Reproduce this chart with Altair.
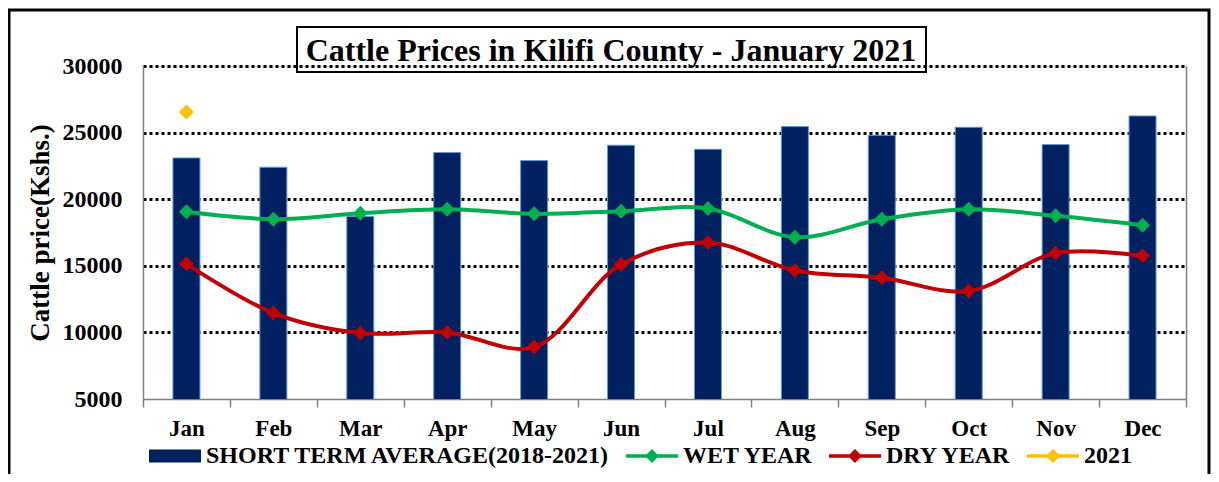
import altair as alt
import pandas as pd

# ---------------- data ----------------
months = ["Jan", "Feb", "Mar", "Apr", "May", "Jun", "Jul", "Aug", "Sep", "Oct", "Nov", "Dec"]
short_term_avg = [23100, 22400, 18700, 23500, 22900, 24050, 23750, 25450, 24800, 25400, 24100, 26250]
wet_year = [19050, 18500, 18950, 19250, 18900, 19100, 19300, 17150, 18500, 19250, 18750, 18050]
dry_year = [15150, 11450, 9950, 10000, 8900, 15100, 16750, 14650, 14100, 13100, 15950, 15750]
y2021_months = ["Jan"]
y2021_values = [26550]

S_STA = "SHORT TERM AVERAGE(2018-2021)"
S_WET = "WET YEAR"
S_DRY = "DRY YEAR"
S_2021 = "2021"
series_names = [S_STA, S_WET, S_DRY, S_2021]
series_colors = ["#002060", "#00B050", "#C00000", "#FFC000"]
y_ticks = [5000, 10000, 15000, 20000, 25000, 30000]

title_text = "Cattle Prices in Kilifi County - January 2021"
y_title = "Cattle price(Kshs.)"

rows = []
for m, v in zip(months, short_term_avg):
    rows.append({"month": m, "series": S_STA, "value": v})
for m, v in zip(months, wet_year):
    rows.append({"month": m, "series": S_WET, "value": v})
for m, v in zip(months, dry_year):
    rows.append({"month": m, "series": S_DRY, "value": v})
for m, v in zip(y2021_months, y2021_values):
    rows.append({"month": m, "series": S_2021, "value": v})
df = pd.DataFrame(rows)

FONT = "Liberation Serif"
BAR_SYM = "M-1,-0.25H1V0.25H-1Z"
LINE_SYM = "M-1,-0.07H1V0.07H-1Z M0,-0.27L0.27,0L0,0.27L-0.27,0Z"

x_enc = alt.X(
    "month:N",
    sort=months,
    scale=alt.Scale(domain=months, paddingInner=0, paddingOuter=0),
    axis=alt.Axis(
        title=None, labelAngle=0, tickBand="extent", tickSize=8, tickColor="#808080",
        tickWidth=1.5, domainColor="#808080", domainWidth=1.5, labelFont=FONT,
        labelFontSize=23, labelFontWeight="bold", labelColor="black", labelPadding=10,
        grid=False,
    ),
)
y_scale = alt.Scale(domain=[5000, 30000], nice=False, zero=False)
y_left = alt.Y(
    "value:Q",
    scale=y_scale,
    axis=alt.Axis(
        values=y_ticks, format="d", title=y_title, titleFont=FONT, titleFontSize=27,
        titleFontWeight="bold", titleColor="black", titlePadding=8,
        labelFont=FONT, labelFontSize=24, labelFontWeight="bold", labelColor="black",
        labelPadding=21, ticks=False, domainColor="#808080", domainWidth=1.5,
        grid=True, gridColor="black", gridWidth=3, gridDash=[3, 3],
        gridOpacity={"condition": {"test": "datum.value == 5000", "value": 0}, "value": 1},
    ),
)
y_right = alt.Y(
    "value:Q",
    scale=y_scale,
    axis=alt.Axis(orient="right", labels=False, ticks=False, title=None, grid=False,
                  domainColor="#808080", domainWidth=1.5),
)
y_none = alt.Y("value:Q", scale=y_scale, axis=None)

legend = alt.Legend(
    title=None, orient="none", legendX=6, legendY=364, direction="horizontal",
    symbolSize=2704, labelFont=FONT, labelFontSize=24, labelFontWeight="bold",
    labelColor="black", labelOffset=5, columnPadding=15, padding=0,
    symbolStrokeWidth=0, symbolOpacity=1, labelLimit=600,
    symbolType={"expr": "datum.value === '" + S_STA + "' ? '" + BAR_SYM + "' : '" + LINE_SYM + "'"},
)
color_enc = alt.Color("series:N", scale=alt.Scale(domain=series_names, range=series_colors), legend=legend)

base = alt.Chart(df)

bars = base.transform_filter(alt.datum.series == S_STA).mark_bar(
    size=27, stroke="#5B9BD5", strokeWidth=1, clip=True
).encode(x=x_enc, y=y_left, color=color_enc)

wet_line = base.transform_filter(alt.datum.series == S_WET).mark_line(
    color="#00B050", strokeWidth=4, interpolate="catmull-rom"
).encode(x=x_enc, y=y_right)

dry_line = base.transform_filter(alt.datum.series == S_DRY).mark_line(
    color="#C00000", strokeWidth=4, interpolate="catmull-rom"
).encode(x=x_enc, y=y_none)

points = base.transform_filter(alt.datum.series != S_STA).mark_point(
    shape="diamond", filled=True, size=225, opacity=1
).encode(x=x_enc, y=y_none, color=color_enc)

one = pd.DataFrame({"k": [0]})

title_box = alt.Chart(one).mark_rect(
    fill="transparent", stroke="black", strokeWidth=2, clip=False
).encode(x=alt.value(154), x2=alt.value(783), y=alt.value(-39), y2=alt.value(6))

title_mark = alt.Chart(one).mark_text(
    font=FONT, fontSize=32, fontWeight="bold", color="black", align="center",
    baseline="alphabetic", clip=False
).encode(x=alt.value(468), y=alt.value(-5), text=alt.value(title_text))

outer_box = alt.Chart(one).mark_rect(
    fill="transparent", stroke="black", strokeWidth=3, clip=False
).encode(x=alt.value(-134), x2=alt.value(1066), y=alt.value(-56), y2=alt.value(430))

chart = alt.layer(bars, wet_line, dry_line, points, title_box, title_mark, outer_box).resolve_axis(
    y="independent"
).properties(
    width=1043,
    height=333,
    autosize=alt.AutoSizeParams(type="none"),
    padding={"left": 135, "top": 58, "right": 25, "bottom": 75},
).configure_view(stroke=None).configure(background="white")

chart.save("out.html", embed_options={"renderer": "svg", "actions": False})
